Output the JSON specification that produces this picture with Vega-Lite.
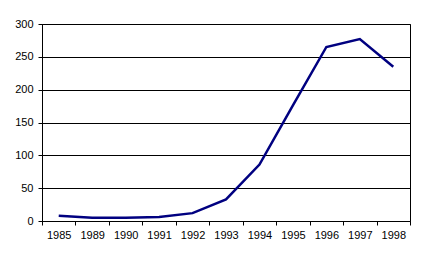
{
  "$schema": "https://vega.github.io/schema/vega-lite/v6.json",
  "width": 368,
  "height": 197,
  "autosize": "none",
  "padding": {"left": 42, "top": 24, "right": 14, "bottom": 41},
  "background": "white",
  "config": {
    "view": {"stroke": "black", "strokeWidth": 1},
    "font": "Liberation Sans",
    "axis": {
      "labelFont": "Liberation Sans",
      "labelFontSize": 11,
      "labelColor": "black",
      "domainColor": "black",
      "tickColor": "black",
      "gridColor": "black",
      "gridOpacity": 1,
      "domainWidth": 1,
      "tickWidth": 1,
      "gridWidth": 1
    }
  },
  "data": {
    "values": [
      {"year": "1985", "value": 8},
      {"year": "1989", "value": 5},
      {"year": "1990", "value": 5},
      {"year": "1991", "value": 6},
      {"year": "1992", "value": 12},
      {"year": "1993", "value": 33},
      {"year": "1994", "value": 86},
      {"year": "1995", "value": 176},
      {"year": "1996", "value": 265},
      {"year": "1997", "value": 277},
      {"year": "1998", "value": 235}
    ]
  },
  "mark": {"type": "line", "color": "#000080", "strokeWidth": 2.5},
  "encoding": {
    "x": {
      "field": "year",
      "type": "ordinal",
      "scale": {"type": "band", "paddingInner": 0, "paddingOuter": 0},
      "axis": {"title": null, "labelAngle": 0, "tickBand": "extent", "tickSize": 4, "labelPadding": 4, "grid": false}
    },
    "y": {
      "field": "value",
      "type": "quantitative",
      "scale": {"domain": [0, 300], "nice": false},
      "axis": {"title": null, "values": [0, 50, 100, 150, 200, 250, 300], "tickSize": 4, "labelPadding": 5, "grid": true}
    }
  }
}
